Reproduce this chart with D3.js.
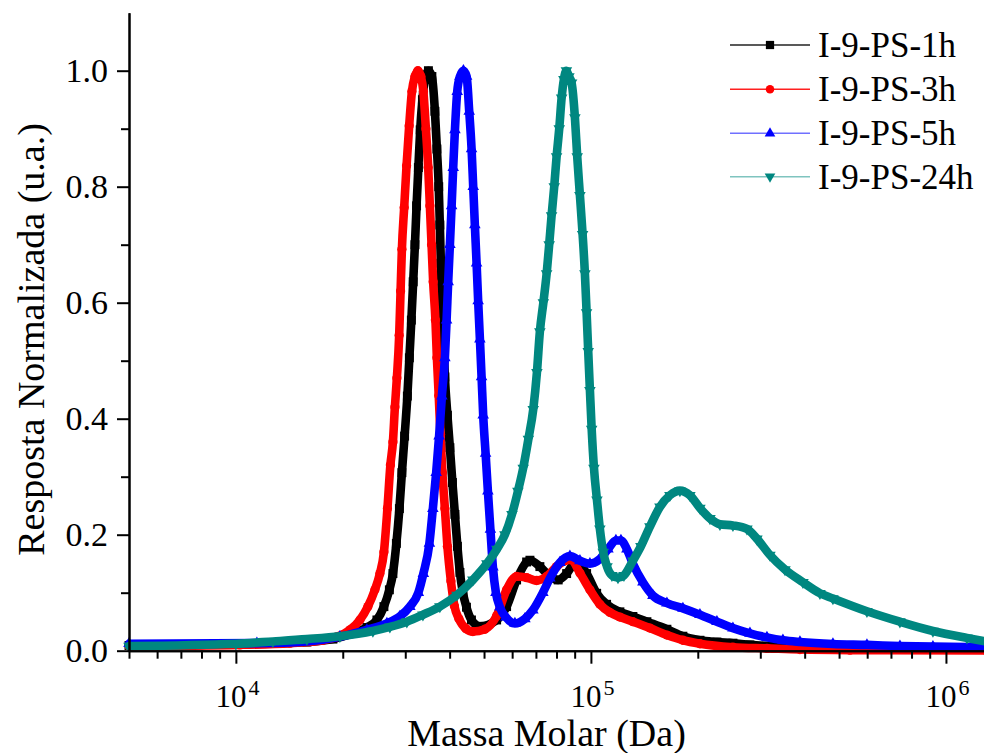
<!DOCTYPE html>
<html>
<head>
<meta charset="utf-8">
<script src="https://cdn.jsdelivr.net/npm/d3@7"></script>
<style>
  html, body { margin: 0; padding: 0; background: #ffffff; }
  svg { display: block; }
</style>
</head>
<body>
<svg id="chart" width="984" height="753"></svg>
<script>
// ---------------- DATA ----------------
const seriesNames = ["I-9-PS-1h", "I-9-PS-3h", "I-9-PS-5h", "I-9-PS-24h"];

// I-9-PS-1h  (molar mass in Da, normalised response)
const mass1h = [5000, 10260, 15850, 18760, 21360, 23390, 24960, 26120, 27060, 27690, 28320, 28880, 29350, 29870, 30410, 30810, 31210, 31580, 31940, 32280, 32660, 33050, 33530, 34180, 34860, 35650, 36360, 36830, 37270, 37540, 37790, 38040, 38410, 38790, 39430, 40070, 40730, 41400, 42070, 42760, 43600, 44610, 46080, 48680, 54250, 57880, 61760, 65910, 67330, 71820, 76650, 80880, 85430, 89170, 92100, 97250, 103800, 110700, 120700, 131300, 143800, 163700, 181600, 202800, 226400, 251200, 280500, 313200, 388000, 536600, 742000, 1297000];
const resp1h = [0.009, 0.011, 0.015, 0.02, 0.03, 0.04, 0.053, 0.076, 0.105, 0.133, 0.185, 0.245, 0.307, 0.37, 0.439, 0.505, 0.57, 0.636, 0.70, 0.767, 0.833, 0.898, 0.95, 0.99, 1.0, 0.99, 0.93, 0.865, 0.80, 0.734, 0.668, 0.603, 0.537, 0.472, 0.406, 0.35, 0.29, 0.235, 0.18, 0.135, 0.10, 0.075, 0.053, 0.042, 0.053, 0.076, 0.122, 0.153, 0.156, 0.145, 0.128, 0.122, 0.133, 0.148, 0.151, 0.133, 0.099, 0.08, 0.067, 0.059, 0.05, 0.037, 0.025, 0.018, 0.015, 0.013, 0.010, 0.008, 0.006, 0.004, 0.003, 0.002];

// I-9-PS-3h
const mass3h = [5000, 10260, 14190, 17590, 19250, 20950, 22350, 23540, 24630, 25450, 26120, 26720, 27240, 27690, 28050, 28410, 28840, 29100, 29350, 29790, 30250, 30770, 31320, 31940, 32560, 33200, 33740, 34290, 34810, 35190, 35580, 35950, 36480, 36830, 37270, 37690, 38170, 38790, 39430, 40330, 41260, 42480, 44450, 46510, 50280, 54250, 57880, 61760, 65910, 70310, 75040, 80050, 84500, 87840, 93120, 99360, 106000, 113100, 120700, 131300, 146600, 163700, 181600, 202800, 251200, 313200, 388000, 536600, 1297000];
const resp3h = [0.008, 0.010, 0.013, 0.018, 0.024, 0.036, 0.053, 0.076, 0.105, 0.133, 0.17, 0.245, 0.32, 0.36, 0.42, 0.47, 0.544, 0.62, 0.692, 0.764, 0.836, 0.905, 0.964, 0.99, 1.0, 0.99, 0.964, 0.90, 0.833, 0.767, 0.70, 0.636, 0.57, 0.505, 0.44, 0.373, 0.307, 0.245, 0.18, 0.12, 0.077, 0.055, 0.038, 0.033, 0.037, 0.06, 0.105, 0.128, 0.126, 0.121, 0.128, 0.145, 0.155, 0.157, 0.134, 0.105, 0.08, 0.066, 0.058, 0.05, 0.039, 0.027, 0.018, 0.012, 0.006, 0.004, 0.002, 0.001, 0.0005];

// I-9-PS-5h
const mass5h = [5000, 11460, 15850, 19630, 23390, 26630, 28970, 30910, 32660, 33740, 35080, 35880, 36660, 37360, 38040, 38790, 39220, 39630, 40070, 40520, 40940, 41400, 42020, 42760, 43740, 44660, 45420, 46120, 46610, 47110, 47640, 48130, 48680, 49210, 49730, 50510, 51270, 52110, 52960, 54000, 55420, 57620, 61080, 65180, 68650, 73220, 76650, 81770, 87270, 93120, 99360, 106000, 111700, 117600, 121500, 126300, 131300, 140100, 149500, 163700, 181600, 202800, 226400, 251200, 280500, 313200, 347400, 388000, 480500, 599100, 742000, 919200, 1297000];
const resp5h = [0.012, 0.013, 0.016, 0.024, 0.036, 0.047, 0.059, 0.076, 0.10, 0.133, 0.185, 0.245, 0.307, 0.37, 0.439, 0.505, 0.57, 0.636, 0.70, 0.767, 0.833, 0.898, 0.964, 0.99, 1.0, 0.99, 0.93, 0.865, 0.80, 0.734, 0.668, 0.603, 0.537, 0.472, 0.406, 0.34, 0.275, 0.209, 0.144, 0.10, 0.075, 0.058, 0.047, 0.055, 0.07, 0.10, 0.125, 0.152, 0.163, 0.155, 0.150, 0.158, 0.175, 0.19, 0.19, 0.175, 0.15, 0.118, 0.095, 0.082, 0.073, 0.062, 0.05, 0.039, 0.03, 0.023, 0.018, 0.015, 0.0115, 0.01, 0.008, 0.007, 0.006];

// I-9-PS-24h
const mass24h = [5000, 10000, 12710, 15850, 19630, 24320, 27150, 30310, 33640, 37540, 41940, 46510, 50930, 54350, 57250, 59920, 62290, 64460, 66670, 68790, 70460, 71820, 73460, 75040, 76290, 77480, 78820, 80050, 81430, 82700, 83930, 85310, 86700, 88230, 90150, 91500, 93120, 94760, 96180, 97250, 98270, 99360, 100500, 102000, 104000, 106000, 108300, 111000, 114600, 119200, 123900, 131300, 138300, 146600, 156500, 166900, 178100, 190000, 202800, 216400, 230900, 251200, 275100, 293500, 319300, 352000, 395600, 441700, 480500, 599100, 742000, 919200, 1146000, 1297000];
const resp24h = [0.008, 0.012, 0.016, 0.02, 0.025, 0.034, 0.041, 0.05, 0.062, 0.076, 0.096, 0.122, 0.15, 0.175, 0.2, 0.235, 0.275, 0.315, 0.365, 0.416, 0.48, 0.55, 0.60, 0.65, 0.70, 0.75, 0.80, 0.852, 0.90, 0.953, 0.985, 1.0, 0.99, 0.979, 0.919, 0.852, 0.785, 0.718, 0.65, 0.583, 0.516, 0.449, 0.382, 0.315, 0.26, 0.21, 0.17, 0.145, 0.13, 0.126, 0.13, 0.155, 0.18, 0.214, 0.248, 0.268, 0.276, 0.268, 0.246, 0.228, 0.218, 0.216, 0.21, 0.193, 0.165, 0.14, 0.118, 0.099, 0.09, 0.068, 0.05, 0.034, 0.022, 0.016];

// Axes
const xDomain = [5000, 1300000];
const yDomain = [0, 1.1];
const xMajorTicks = [1e4, 1e5, 1e6];
const xTickExponents = ["4", "5", "6"];
const xMinorTicks = [5000, 6000, 7000, 8000, 9000, 2e4, 3e4, 4e4, 5e4, 6e4, 7e4, 8e4, 9e4, 2e5, 3e5, 4e5, 5e5, 6e5, 7e5, 8e5, 9e5];
const yMajorTicks = [0, 0.2, 0.4, 0.6, 0.8, 1.0];
const yTickLabels = ["0.0", "0.2", "0.4", "0.6", "0.8", "1.0"];
const yMinorTicks = [0.1, 0.3, 0.5, 0.7, 0.9];
const xTitle = "Massa Molar (Da)";
const yTitle = "Resposta Normalizada (u.a.)";

// ---------------- DRAWING ----------------
const FONT = "'Liberation Serif','Times New Roman',Times,serif";
const svg = d3.select("#chart");
svg.append("rect").attr("width", 984).attr("height", 753).attr("fill", "#ffffff");

const x = d3.scaleLog().domain(xDomain).range([129, 986.4]);
const y = d3.scaleLinear().domain(yDomain).range([650.7, 12.7]);

const styles = [
  { mass: mass1h, resp: resp1h, color: "#000000", lineColor: "#222222", shape: "square" },
  { mass: mass3h, resp: resp3h, color: "#ff0000", lineColor: "#ff2020", shape: "circle" },
  { mass: mass5h, resp: resp5h, color: "#0000ff", lineColor: "#7070ff", shape: "up" },
  { mass: mass24h, resp: resp24h, color: "#008780", lineColor: "#7fc4bf", shape: "down" }
];

function symbolPath(shape, big) {
  const k = big ? 1 : 0.85;
  if (shape === "square") return d3.symbol().type(d3.symbolSquare).size(80 * k)();
  if (shape === "circle") return d3.symbol().type(d3.symbolCircle).size(68 * k)();
  return d3.symbol().type(d3.symbolTriangle).size(58 * k)();
}

const line = d3.line()
  .x(d => x(d[0]))
  .y(d => y(d[1]))
  .curve(d3.curveMonotoneX);

const plot = svg.append("g");
styles.forEach(s => {
  const pts = s.mass.map((m, i) => [m, s.resp[i]]);
  const g = plot.append("g");
  g.append("path")
    .datum(pts)
    .attr("d", line)
    .attr("fill", "none")
    .attr("stroke", s.color)
    .attr("stroke-width", 8.6)
    .attr("stroke-linejoin", "round")
    .attr("stroke-linecap", "round");
  g.selectAll("path.mk")
    .data(pts)
    .join("path")
    .attr("class", "mk")
    .attr("d", symbolPath(s.shape, true))
    .attr("transform", d => `translate(${x(d[0])},${y(d[1])})` + (s.shape === "down" ? " rotate(180)" : ""))
    .attr("fill", s.color);
});

// ---- axes ----
function styleAxis(g) {
  g.attr("font-family", FONT);
  g.select(".domain").attr("stroke", "#000").attr("stroke-width", 2);
  g.selectAll(".tick line").attr("stroke", "#000").attr("stroke-width", 2);
}

const xMinorG = svg.append("g").attr("transform", "translate(0,650.7)")
  .call(d3.axisBottom(x).tickValues(xMinorTicks).tickSize(8).tickSizeOuter(0).tickFormat(() => ""));
styleAxis(xMinorG);

const xMajorG = svg.append("g").attr("transform", "translate(0,650.7)")
  .call(d3.axisBottom(x).tickValues(xMajorTicks).tickSize(13).tickSizeOuter(0).tickFormat(() => ""));
styleAxis(xMajorG);
xMajorG.selectAll(".tick").each(function (d, i) {
  const t = d3.select(this);
  t.append("text")
    .attr("x", -21).attr("y", 56)
    .attr("text-anchor", "start")
    .attr("fill", "#000")
    .style("font-size", "31px").style("font-family", FONT)
    .text("10");
  t.append("text")
    .attr("x", 12).attr("y", 44)
    .attr("text-anchor", "start")
    .attr("fill", "#000")
    .style("font-size", "22px").style("font-family", FONT)
    .text(xTickExponents[i]);
});

const yMinorG = svg.append("g").attr("transform", "translate(129,0)")
  .call(d3.axisLeft(y).tickValues(yMinorTicks).tickSize(8).tickSizeOuter(0).tickFormat(() => ""));
styleAxis(yMinorG);

const yMajorG = svg.append("g").attr("transform", "translate(129,0)")
  .call(d3.axisLeft(y).tickValues(yMajorTicks).tickSize(12).tickSizeOuter(0).tickPadding(9)
    .tickFormat((d, i) => yTickLabels[i]));
styleAxis(yMajorG);
yMajorG.selectAll(".tick text")
  .attr("fill", "#000")
  .attr("dy", "0.33em")
  .style("font-size", "34px").style("font-family", FONT);

// ---- axis titles ----
svg.append("text")
  .attr("x", 546.5).attr("y", 746)
  .attr("text-anchor", "middle")
  .attr("fill", "#000")
  .style("font-size", "38px").style("font-family", FONT)
  .text(xTitle);

svg.append("text")
  .attr("transform", "translate(44,339.5) rotate(-90)")
  .attr("text-anchor", "middle")
  .attr("fill", "#000")
  .style("font-size", "38px").style("font-family", FONT)
  .text(yTitle);

// ---- legend ----
const legendRowsY = [45, 89.3, 133.3, 176.7];
const legend = svg.append("g");
styles.forEach((s, i) => {
  const ry = legendRowsY[i];
  legend.append("line")
    .attr("x1", 730).attr("x2", 810).attr("y1", ry).attr("y2", ry)
    .attr("stroke", s.lineColor).attr("stroke-width", 1.6);
  legend.append("path")
    .attr("d", symbolPath(s.shape, false))
    .attr("transform", `translate(770,${ry})` + (s.shape === "down" ? " rotate(180)" : ""))
    .attr("fill", s.color);
  legend.append("text")
    .attr("x", 818).attr("y", ry + 12)
    .attr("fill", "#000")
    .style("font-size", "35px").style("font-family", FONT)
    .text(seriesNames[i]);
});
</script>
</body>
</html>
